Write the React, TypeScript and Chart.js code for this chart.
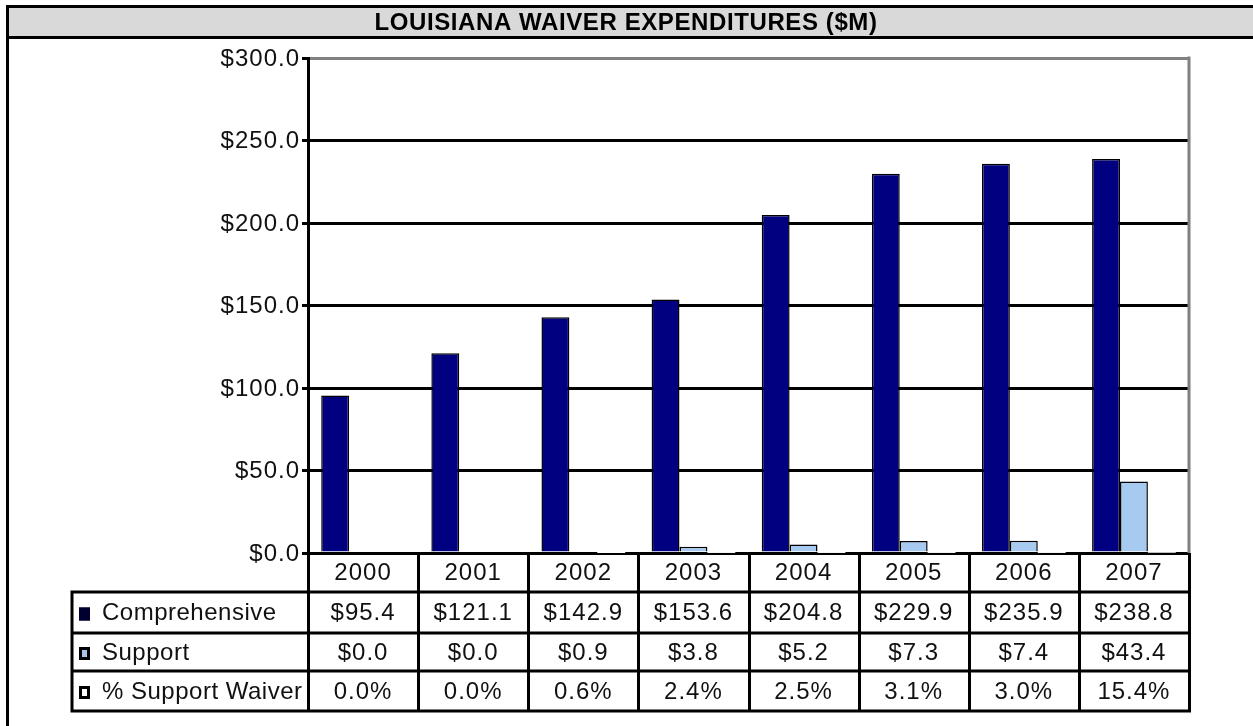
import React, { useEffect, useRef } from "react";
import { Chart, registerables } from "chart.js";

Chart.register(...registerables);

const TITLE = "LOUISIANA WAIVER EXPENDITURES ($M)";
const years = ["2000", "2001", "2002", "2003", "2004", "2005", "2006", "2007"];
const comprehensive = [95.4, 121.1, 142.9, 153.6, 204.8, 229.9, 235.9, 238.8];
const support = [0.0, 0.0, 0.9, 3.8, 5.2, 7.3, 7.4, 43.4];
const supportPct = [0.0, 0.0, 0.6, 2.4, 2.5, 3.1, 3.0, 15.4];
const seriesNames = ["Comprehensive", "Support", "% Support Waiver"];
const yMin = 0;
const yMax = 300;
const yStep = 50;

const FONT = "'Liberation Sans', Arial, sans-serif";

const chromePlugin = {
  id: "chrome",
  beforeDraw(chart: any) {
    const ctx = chart.ctx;
    ctx.save();
    ctx.fillStyle = "#ffffff";
    ctx.fillRect(0, 0, chart.width, chart.height);
    // title band
    ctx.fillStyle = "#d9d9d9";
    ctx.fillRect(7, 6, chart.width - 7, 31);
    ctx.strokeStyle = "#000";
    ctx.lineWidth = 3;
    ctx.beginPath();
    ctx.moveTo(6, 6.5);
    ctx.lineTo(chart.width, 6.5);
    ctx.moveTo(6, 37.5);
    ctx.lineTo(chart.width, 37.5);
    ctx.moveTo(7.5, 5);
    ctx.lineTo(7.5, chart.height);
    ctx.stroke();
    ctx.fillStyle = "#000";
    ctx.font = `bold 24px ${FONT}`;
    (ctx as any).letterSpacing = "0.6px";
    ctx.textAlign = "center";
    ctx.textBaseline = "middle";
    ctx.fillText(TITLE, 626, 23);
    ctx.restore();
  },
  afterDraw(chart: any) {
    const ctx = chart.ctx;
    const area = chart.chartArea;
    const xs = chart.scales.x;
    const ys = chart.scales.y;
    ctx.save();
    // right gray border of plot
    ctx.strokeStyle = "#808080";
    ctx.lineWidth = 3;
    ctx.beginPath();
    ctx.moveTo(area.right, area.top - 1.5);
    ctx.lineTo(area.right, area.bottom);
    ctx.stroke();

    // y tick labels
    ctx.fillStyle = "#111";
    ctx.font = `24px ${FONT}`;
    (ctx as any).letterSpacing = "1px";
    ctx.textAlign = "right";
    ctx.textBaseline = "middle";
    for (let v = yMin; v <= yMax; v += yStep) {
      ctx.fillText("$" + v.toFixed(1), area.left - 8, ys.getPixelForValue(v) + 1);
    }

    // table
    const colW = (area.right - area.left) / years.length;
    const rowEdges = [area.bottom, 592, 633, 671, 711];
    const legendLeft = 72;
    ctx.strokeStyle = "#000";
    ctx.lineWidth = 3;
    ctx.beginPath();
    for (let r = 1; r < rowEdges.length; r++) {
      ctx.moveTo(legendLeft - 1.5, rowEdges[r]);
      ctx.lineTo(area.right + 1.5, rowEdges[r]);
    }
    ctx.moveTo(legendLeft, rowEdges[1]);
    ctx.lineTo(legendLeft, rowEdges[4] + 1.5);
    for (let i = 0; i <= years.length; i++) {
      const x = Math.round(xs.getPixelForValue(i) - colW / 2) + 0.5;
      ctx.moveTo(x, area.bottom);
      ctx.lineTo(x, rowEdges[4] + 1.5);
    }
    ctx.stroke();

    ctx.font = `24px ${FONT}`;
    (ctx as any).letterSpacing = "1px";
    ctx.textAlign = "center";
    const rowsText = [
      years,
      comprehensive.map((v) => "$" + v.toFixed(1)),
      support.map((v) => "$" + v.toFixed(1)),
      supportPct.map((v) => v.toFixed(1) + "%"),
    ];
    for (let r = 0; r < rowsText.length; r++) {
      const cy = (rowEdges[r] + rowEdges[r + 1]) / 2 + 1;
      for (let i = 0; i < years.length; i++) {
        ctx.fillText(rowsText[r][i], xs.getPixelForValue(i), cy);
      }
    }

    // legend column
    const keyFill = ["#000030", "#a9c4e8", "#ffffff"];
    (ctx as any).letterSpacing = "0.5px";
    for (let r = 0; r < seriesNames.length; r++) {
      const cy = (rowEdges[r + 1] + rowEdges[r + 2]) / 2 + 1;
      ctx.fillStyle = "#000";
      ctx.fillRect(79, cy - 6, 11, 13);
      ctx.fillStyle = keyFill[r];
      ctx.fillRect(82, cy - 3, 5, 7);
      if (r === 0) {
        ctx.fillStyle = "#000030";
        ctx.fillRect(79, cy - 6, 11, 13);
      }
      ctx.save();
      ctx.beginPath();
      ctx.rect(legendLeft, rowEdges[r + 1], area.left - legendLeft - 2, 50);
      ctx.clip();
      ctx.fillStyle = "#111";
      ctx.textAlign = "left";
      ctx.fillText(seriesNames[r], 102, cy);
      ctx.restore();
    }
    ctx.restore();
  },
};

export default function App() {
  const ref = useRef<HTMLCanvasElement | null>(null);
  useEffect(() => {
    if (!ref.current) return;
    const chart = new Chart(ref.current, {
      type: "bar",
      data: {
        labels: years,
        datasets: [
          {
            label: seriesNames[0],
            data: comprehensive,
            backgroundColor: "#000080",
            borderColor: "#000000",
            borderWidth: 1.5,
          },
          {
            label: seriesNames[1],
            data: support,
            backgroundColor: "#a6caf0",
            borderColor: "#000000",
            borderWidth: 1.5,
          },
          {
            label: seriesNames[2],
            data: supportPct.map((v) => v / 100),
            backgroundColor: "#ffffff",
            borderWidth: 0,
          },
        ],
      },
      options: {
        responsive: false,
        animation: false,
        layout: { padding: { left: 0, top: 58, right: 64, bottom: 173 } },
        datasets: { bar: { categoryPercentage: 0.76, barPercentage: 1 } },
        plugins: { legend: { display: false }, tooltip: { enabled: false }, title: { display: false } },
        scales: {
          x: { display: false },
          y: {
            min: yMin,
            max: yMax,
            ticks: { stepSize: yStep, display: false },
            afterFit: (s: any) => {
              s.width = 308;
            },
            border: { color: "#000", width: 3 },
            grid: {
              color: (c: any) => (c.tick && c.tick.value === yMax ? "#808080" : "#000"),
              tickColor: "#000",
              lineWidth: 3,
              tickLength: 6,
              drawTicks: true,
            },
          },
        },
      },
      plugins: [chromePlugin],
    });
    return () => chart.destroy();
  }, []);
  return (
    <div style={{ position: "absolute", left: 0, top: 0, width: 1253, height: 726 }}>
      <canvas ref={ref} width={1253} height={726} style={{ width: 1253, height: 726 }} />
    </div>
  );
}
